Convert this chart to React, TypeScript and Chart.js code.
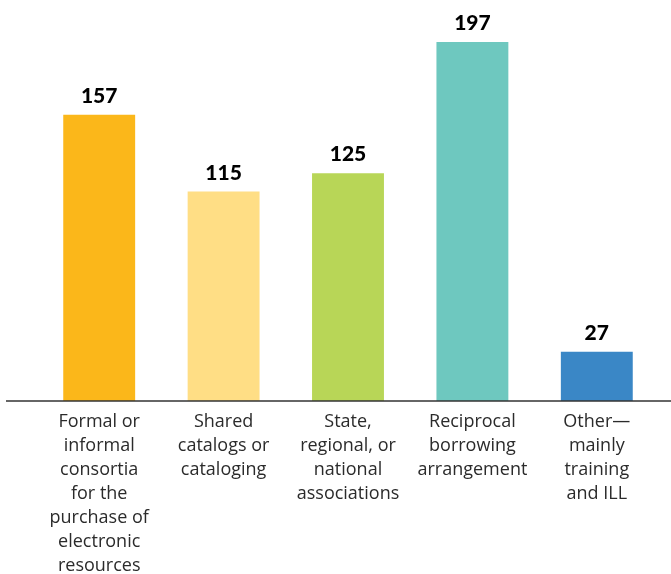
import React, { useEffect, useRef } from "react";
import { Chart, registerables } from "chart.js";

Chart.register(...registerables);

const categories: string[][] = [
  ["Formal or", "informal", "consortia", "for the", "purchase of", "electronic", "resources"],
  ["Shared", "catalogs or", "cataloging"],
  ["State,", "regional, or", "national", "associations"],
  ["Reciprocal", "borrowing", "arrangement"],
  ["Other\u2014", "mainly", "training", "and ILL"],
];
const values: number[] = [157, 115, 125, 197, 27];
const barColors: string[] = ["#FBB71A", "#FFDE85", "#B8D657", "#6EC8BF", "#3A87C6"];

const valueLabels = {
  id: "valueLabels",
  afterDatasetsDraw(chart: any) {
    const ctx = chart.ctx;
    const meta = chart.getDatasetMeta(0);
    ctx.save();
    ctx.font = "900 21px Lato, 'Open Sans', sans-serif";
    ctx.fillStyle = "#000";
    ctx.textAlign = "center";
    ctx.textBaseline = "bottom";
    meta.data.forEach((bar: any, i: number) => {
      ctx.fillText(String(values[i]), bar.x, bar.y - 8);
    });
    ctx.restore();
  },
};

const baseLine = {
  id: "baseLine",
  afterDatasetsDraw(chart: any) {
    const ctx = chart.ctx;
    const y = chart.scales.y.getPixelForValue(0);
    ctx.save();
    ctx.strokeStyle = "#333";
    ctx.lineWidth = 1.5;
    ctx.beginPath();
    ctx.moveTo(6, y);
    ctx.lineTo(chart.width, y);
    ctx.stroke();
    ctx.restore();
  },
};

export default function App() {
  const ref = useRef<HTMLCanvasElement>(null);
  useEffect(() => {
    document.body.style.margin = "0";
    const chart = new Chart(ref.current!, {
      type: "bar",
      data: {
        labels: categories,
        datasets: [
          {
            data: values,
            backgroundColor: barColors,
            borderWidth: 0,
            categoryPercentage: 1,
            barPercentage: 0.578,
          },
        ],
      },
      options: {
        animation: false,
        responsive: true,
        maintainAspectRatio: false,
        layout: { padding: { left: 37, right: 12, top: 0, bottom: -13 } },
        plugins: { legend: { display: false }, tooltip: { enabled: false } },
        scales: {
          x: {
            grid: { display: false, drawTicks: false },
            border: { display: false },
            ticks: {
              color: "#2b2b2b",
              font: { family: "'Open Sans', sans-serif", size: 18, lineHeight: "24px" as any },
              padding: 9,
              maxRotation: 0,
              minRotation: 0,
              autoSkip: false,
            },
          },
          y: {
            display: false,
            min: 0,
            max: 220,
          },
        },
      },
      plugins: [valueLabels, baseLine],
    });
    return () => chart.destroy();
  }, []);
  return (
    <div style={{ position: "fixed", left: 0, top: 0, width: 671, height: 574 }}>
      <canvas ref={ref} />
    </div>
  );
}
